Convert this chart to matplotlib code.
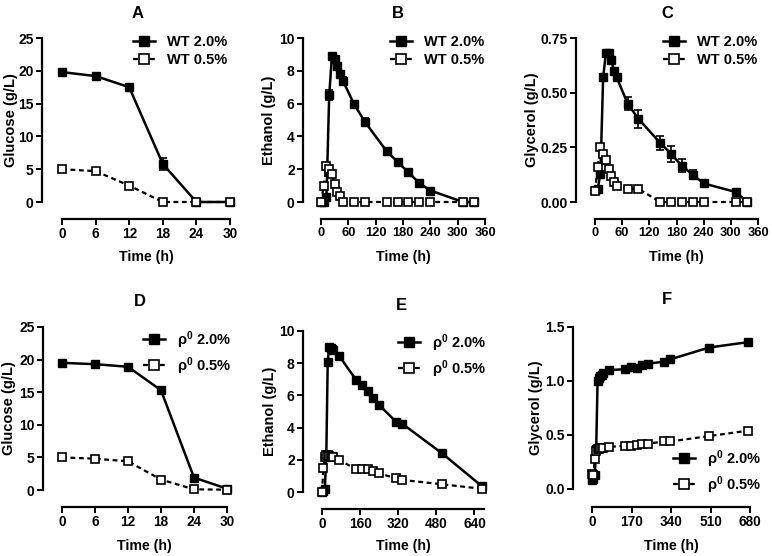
import numpy as np
import matplotlib.pyplot as plt

plt.rcParams['font.family'] = ['Liberation Sans', 'DejaVu Sans']
plt.rcParams['font.weight'] = 'bold'
plt.rcParams['mathtext.fontset'] = 'custom'
plt.rcParams['mathtext.rm'] = 'Liberation Sans:bold'
plt.rcParams['mathtext.default'] = 'rm'

# ---- data ----
t_glc = [0, 6, 12, 18, 24, 30]
glc_wt_20 = [19.8, 19.2, 17.5, 5.8, 0, 0]
glc_wt_20_err = [0.2, 0.2, 0.3, 0.9, 0, 0]
glc_wt_05 = [5.0, 4.7, 2.5, 0, 0, 0]

t_wt = [0, 6, 12, 18, 24, 30, 36, 42, 48, 72, 96, 144, 168, 192, 216, 240, 312, 336]
eth_wt_20 = [0, 0, 0.3, 6.5, 8.9, 8.7, 8.3, 7.8, 7.4, 6.0, 4.9, 3.1, 2.45, 1.8, 1.15, 0.7, 0, 0]
eth_wt_20_err = [0, 0, 0, 0.3, 0.1, 0.1, 0.2, 0.2, 0.2, 0.1, 0.25, 0.1, 0.1, 0.1, 0.1, 0.05, 0, 0]
eth_wt_05 = [0, 1.0, 2.2, 2.0, 1.7, 1.1, 0.6, 0.35, 0, 0, 0, 0, 0, 0, 0, 0, 0, 0]
gly_wt_20 = [0.055, 0.06, 0.13, 0.57, 0.68, 0.68, 0.65, 0.60, 0.57, 0.45, 0.38, 0.27, 0.22, 0.165, 0.125, 0.085, 0.045, 0]
gly_wt_20_err = [0.005, 0.005, 0.01, 0.01, 0.01, 0.01, 0.01, 0.01, 0.01, 0.03, 0.04, 0.03, 0.035, 0.03, 0.02, 0.01, 0.01, 0]
gly_wt_05 = [0.05, 0.16, 0.25, 0.22, 0.19, 0.15, 0.12, 0.09, 0.075, 0.06, 0.06, 0, 0, 0, 0, 0, 0, 0]

glc_r0_20 = [19.5, 19.3, 18.9, 15.3, 1.9, 0.2]
glc_r0_05 = [5.0, 4.8, 4.4, 1.6, 0.1, 0.05]

t_r0 = [0, 6, 12, 18, 24, 30, 36, 42, 48, 72, 144, 168, 192, 216, 240, 312, 336, 504, 672]
eth_r0_20 = [0, 0.05, 0.2, 2.2, 8.1, 9.0, 8.95, 8.9, 8.8, 8.45, 6.95, 6.65, 6.3, 5.85, 5.4, 4.35, 4.25, 2.4, 0.35]
eth_r0_05 = [0, 1.5, 2.2, 2.3, 2.3, 2.25, 2.2, 2.2, 2.15, 2.0, 1.4, 1.45, 1.4, 1.3, 1.15, 0.85, 0.75, 0.48, 0.2]
gly_r0_20 = [0.08, 0.09, 0.13, 0.37, 1.0, 1.03, 1.05, 1.06, 1.07, 1.1, 1.11, 1.13, 1.12, 1.15, 1.16, 1.18, 1.2, 1.31, 1.36]
gly_r0_05 = [0.14, 0.13, 0.28, 0.35, 0.37, 0.37, 0.38, 0.38, 0.38, 0.39, 0.40, 0.40, 0.41, 0.42, 0.42, 0.44, 0.44, 0.49, 0.54]

W, H = 772, 556
fig = plt.figure(figsize=(W / 100, H / 100), dpi=100)


def make_ax(spine_x, x0px, x1px, xmin, xmax, ytop, ybot, ymin, ymax, xaxis_y, xts=9.8):
    ax = fig.add_axes([spine_x / W, 1 - ybot / H, (x1px - spine_x) / W, (ybot - ytop) / H])
    sc = (x1px - x0px) / (xmax - xmin)
    ax.set_xlim(xmin - (x0px - spine_x) / sc, xmax)
    ax.set_ylim(ymin, ymax)
    for s in ['top', 'right']:
        ax.spines[s].set_visible(False)
    ax.spines['bottom'].set_bounds(xmin, xmax)
    ax.spines['bottom'].set_position(('outward', (xaxis_y - ybot) * 0.72))
    for s in ['left', 'bottom']:
        ax.spines[s].set_linewidth(1.6)
    ax.tick_params(width=1.4, length=4, labelsize=10, pad=2)
    ax.tick_params(axis='x', labelsize=xts)
    for lab in ax.get_xticklabels() + ax.get_yticklabels():
        lab.set_fontweight('bold')
    return ax


def draw(ax, t, y_full, y_half, err=None):
    ax.plot(t, y_full, color='black', lw=1.8, marker='s', ms=5.8, mfc='black',
            mec='black', clip_on=False, zorder=3)
    ax.plot(t, y_half, color='black', lw=1.6, ls=(0, (2.2, 1.6)), marker='s', ms=5.8,
            mfc='white', mec='black', mew=1.2, clip_on=False, zorder=4)
    if err is not None:
        ax.errorbar(t, y_full, yerr=err, fmt='none', ecolor='black', elinewidth=1.2,
                    capsize=3, capthick=1.2, clip_on=False, zorder=2)


def legend(ax, labels, x, y):
    h = ax.get_lines()[:2]
    ax.legend(h, labels, loc='upper left', bbox_to_anchor=(x / W, 1 - y / H),
              bbox_transform=fig.transFigure, frameon=False, handlelength=1.5,
              handletextpad=0.8, borderpad=0, borderaxespad=0, labelspacing=0.3,
              markerscale=1.15, prop={'weight': 'bold', 'size': 10.5})


wt = ['WT 2.0%', 'WT 0.5%']
r0 = [r'ρ$^{0}$ 2.0%', r'ρ$^{0}$ 0.5%']

# A
ax = make_ax(42, 62, 230, 0, 30, 38, 202, 0, 25, 219)
draw(ax, t_glc, glc_wt_20, glc_wt_05, glc_wt_20_err)
ax.set_xticks([0, 6, 12, 18, 24, 30])
ax.set_yticks([0, 5, 10, 15, 20, 25])
ax.set_ylabel('Glucose (g/L)')
legend(ax, wt, 133, 35)
axes = [ax]

# B
ax = make_ax(303, 321, 485, 0, 360, 38, 202, 0, 10, 219, xts=9.3)
draw(ax, t_wt, eth_wt_20, eth_wt_05, eth_wt_20_err)
ax.set_xticks(np.arange(0, 361, 60))
ax.set_yticks([0, 2, 4, 6, 8, 10])
ax.set_ylabel('Ethanol (g/L)')
legend(ax, wt, 390, 35)
axes.append(ax)

# C
ax = make_ax(576, 595, 758, 0, 360, 38, 202, 0, 0.75, 219, xts=9.3)
draw(ax, t_wt, gly_wt_20, gly_wt_05, gly_wt_20_err)
ax.set_xticks(np.arange(0, 361, 60))
ax.set_yticks([0, 0.25, 0.5, 0.75])
ax.set_yticklabels(['0.00', '0.25', '0.50', '0.75'])
ax.set_ylabel('Glycerol (g/L)')
legend(ax, wt, 663, 35)
axes.append(ax)

# D
ax = make_ax(43, 62, 227, 0, 30, 327, 490, 0, 25, 507)
draw(ax, t_glc, glc_r0_20, glc_r0_05)
ax.set_xticks([0, 6, 12, 18, 24, 30])
ax.set_yticks([0, 5, 10, 15, 20, 25])
ax.set_ylabel('Glucose (g/L)')
legend(ax, r0, 143, 329)
axes.append(ax)

# E
ax = make_ax(303, 322, 484, 0, 680, 331, 492, 0, 10, 509)
draw(ax, t_r0, eth_r0_20, eth_r0_05)
ax.set_xticks(np.arange(0, 641, 160))
ax.set_yticks([0, 2, 4, 6, 8, 10])
ax.set_ylabel('Ethanol (g/L)')
legend(ax, r0, 398, 332)
axes.append(ax)

# F
ax = make_ax(573, 592, 750, 0, 680, 327, 489, 0, 1.5, 507)
draw(ax, t_r0, gly_r0_20, gly_r0_05)
ax.set_xticks(np.arange(0, 681, 170))
ax.set_yticks([0, 0.5, 1.0, 1.5])
ax.set_yticklabels(['0.0', '0.5', '1.0', '1.5'])
ax.set_ylabel('Glycerol (g/L)')
legend(ax, r0, 673, 448)
axes.append(ax)

titles = ['A', 'B', 'C', 'D', 'E', 'F']
title_pos = [(138, 14), (398, 14), (667, 14), (140, 301), (401, 305), (667, 300)]
xlab_y = [257, 257, 257, 546, 546, 546]
ylab_x = [11, 269, 532, 9, 270, 536]
for ax, ttl, (tx, ty), ly, lx in zip(axes, titles, title_pos, xlab_y, ylab_x):
    fig.text(tx / W, 1 - ty / H, ttl, ha='center', va='center', fontsize=12, fontweight='bold')
    ax.set_xlabel('Time (h)', fontsize=10.2, fontweight='bold')
    ax.yaxis.label.set_fontsize(10.5)
    ax.yaxis.label.set_fontweight('bold')
    x0, x1 = ax.spines['bottom'].get_bounds()
    cx = ax.transData.transform(((x0 + x1) / 2, 0))[0] / (fig.dpi * fig.get_figwidth())
    ax.xaxis.set_label_coords(cx, 1 - ly / H, transform=fig.transFigure)
    ax.xaxis.label.set_va('center')
    y0, y1 = ax.get_ylim()
    cy = ax.transData.transform((0, (y0 + y1) / 2))[1] / (fig.dpi * fig.get_figheight())
    ax.yaxis.set_label_coords(lx / W, cy, transform=fig.transFigure)
    ax.yaxis.label.set_va('center')

fig.savefig('out.png', dpi=100)
